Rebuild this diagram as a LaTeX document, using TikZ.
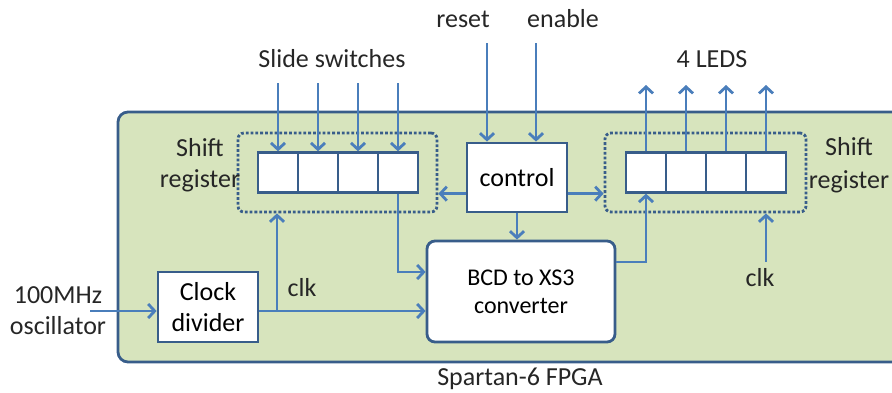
\documentclass[tikz,border=0pt]{standalone}
\usepackage{fontspec}
\setmainfont{Carlito}
\usetikzlibrary{arrows.meta}
\definecolor{fpgagreen}{HTML}{D7E4BD}
\definecolor{wire}{HTML}{4A7EBB}
\definecolor{frame}{HTML}{385D8A}
\tikzset{
  arr/.style={draw=wire, line width=2.8pt, -{Straight Barb[length=6.5pt,width=14pt,line width=2.8pt]}},
  cell/.style={draw=frame, fill=white, line width=2.8pt, minimum width=40pt, minimum height=39.5pt, inner sep=0pt},
  blk/.style={draw=frame, fill=white, line width=2.8pt, inner sep=0pt, align=center},
  dotbox/.style={draw=frame, dotted, line width=2.8pt, rounded corners=6pt, inner sep=0pt},
  lbl/.style={font=\fontsize{26}{29}\selectfont, text=black!85, align=center, inner sep=0pt}
}
\begin{document}
\begin{tikzpicture}[x=1pt,y=-1pt]
\useasboundingbox (0,0) rectangle (892,392);
% FPGA
\draw[draw=frame, fill=fpgagreen, line width=2.8pt, rounded corners=10pt] (118,112) rectangle (910,362);
\node[lbl] (fpga) at (520,379) {Spartan-6 FPGA};
% dotted boxes
\node[dotbox, minimum width=199pt, minimum height=79pt] (ldot) at (337.5,172.5) {};
\node[dotbox, minimum width=201pt, minimum height=79pt] (rdot) at (705.5,172.5) {};
% left register cells
\node[cell] (l1) at (278,172.5) {};
\node[cell] (l2) at (318,172.5) {};
\node[cell] (l3) at (358,172.5) {};
\node[cell] (l4) at (398,172.5) {};
% right register cells
\node[cell] (r1) at (646,172.5) {};
\node[cell] (r2) at (686,172.5) {};
\node[cell] (r3) at (726,172.5) {};
\node[cell] (r4) at (766,172.5) {};
% blocks
\node[blk, minimum width=100pt, minimum height=69pt, font=\fontsize{26}{29}\selectfont] (ctrl) at (517,177.5) {control};
\node[blk, rounded corners=8pt, minimum width=188pt, minimum height=101pt, font=\fontsize{24}{28}\selectfont] (conv) at (521,291.5) {BCD to XS3\\converter};
\node[blk, minimum width=100pt, minimum height=70pt, font=\fontsize{26}{31}\selectfont] (cd) at (208,307) {Clock\\divider};
% labels
\node[lbl] (sw) at (332,59) {Slide switches};
\node[lbl] (leds) at (712,59) {4 LEDS};
\node[lbl] (rst) at (463,19) {reset};
\node[lbl] (en) at (563,19) {enable};
\node[lbl, font=\fontsize{26}{31}\selectfont] (lsr) at (200,165) {Shift\\register};
\node[lbl, font=\fontsize{26}{33}\selectfont] (rsr) at (849,165) {Shift\\register};
\node[lbl, font=\fontsize{26}{31}\selectfont] (osc) at (58,311) {100MHz\\oscillator};
\node[lbl] (clk1) at (302,288) {clk};
\node[lbl] (clk2) at (760,278) {clk};
% coordinates
\coordinate (s1) at (278,83);
\coordinate (s2) at (318,83);
\coordinate (s3) at (358,83);
\coordinate (s4) at (398,83);
\coordinate (o1) at (646,85);
\coordinate (o2) at (686,85);
\coordinate (o3) at (726,85);
\coordinate (o4) at (766,85);
\coordinate (rs) at (487,43);
\coordinate (enc) at (536,43);
\coordinate (oscin) at (90,311);
\coordinate (ck) at (277,311);
\coordinate (ckr) at (766,262);
% connectors
\draw[arr] (s1) -- (l1.north);
\draw[arr] (s2) -- (l2.north);
\draw[arr] (s3) -- (l3.north);
\draw[arr] (s4) -- (l4.north);
\draw[arr] (r1.north) -- (o1);
\draw[arr] (r2.north) -- (o2);
\draw[arr] (r3.north) -- (o3);
\draw[arr] (r4.north) -- (o4);
\draw[arr] (rs) -- (rs |- ctrl.north);
\draw[arr] (enc) -- (enc |- ctrl.north);
\draw[arr] (ctrl.west |- l1.south) -- (ldot.east |- l1.south);
\draw[arr] (ctrl.east |- r1.south) -- (rdot.west |- r1.south);
\draw[arr] (ctrl.south) -- (ctrl.south |- conv.north);
\draw[arr] (l4.south) |- ([yshift=19.5pt]conv.west);
\draw[arr] ([yshift=29.5pt]conv.east) -| (r1.south);
\draw[arr] (oscin) -- (cd.west |- oscin);
\draw[arr] (cd.east |- ck) -- (conv.west |- ck);
\draw[arr] (ck) -- (ck |- ldot.south);
\draw[arr] (ckr) -- (ckr |- rdot.south);
\end{tikzpicture}
\end{document}
